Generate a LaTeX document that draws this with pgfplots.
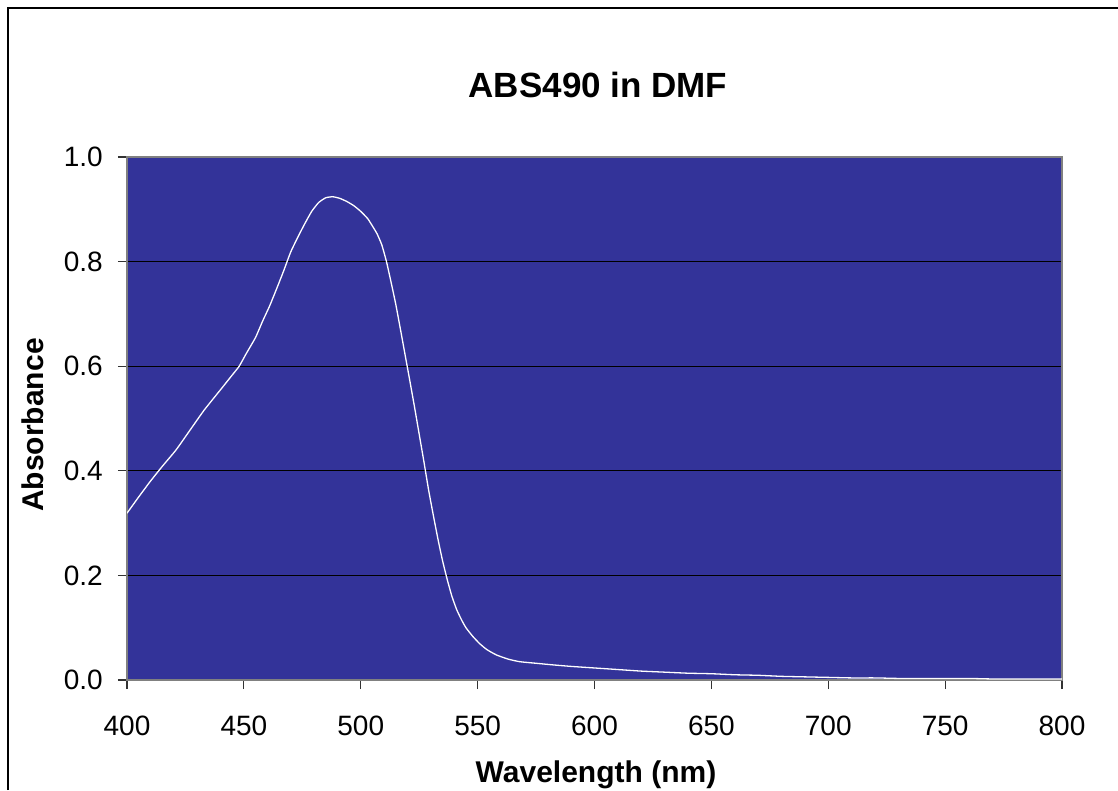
\documentclass[border=0pt]{standalone}
\usepackage{fontspec}
\setmainfont{Liberation Sans}
\usepackage{pgfplots}
\pgfplotsset{compat=1.18}
\definecolor{plotblue}{HTML}{333399}
\definecolor{axisgray}{HTML}{808080}

\begin{document}
\begin{tikzpicture}
	\useasboundingbox (0,0) rectangle (1118pt,790pt);
	% chart frame (left and top edges visible)
	\draw[black, line width=1.5pt] (8pt,0pt) -- (8pt,782pt) -- (1118pt,782pt);
	\begin{axis}[
		at={(127pt,110pt)}, anchor=south west,
		scale only axis,
		width=935pt, height=523pt,
		xmin=400, xmax=800,
		ymin=0, ymax=1,
		xtick={400,450,...,800},
		ytick={0,0.2,0.4,0.6,0.8,1.0},
		axis background/.style={fill=plotblue},
		axis line style={axisgray, line width=1.5pt},
		ymajorgrids,
		major grid style={black, line width=1.2pt},
		tick align=outside,
		major tick length=9pt,
		tick style={black!80, line width=1.2pt},
		xtick pos=bottom, ytick pos=left,
		/pgf/number format/assume math mode=true,
		yticklabel style={/pgf/number format/fixed, /pgf/number format/fixed zerofill, /pgf/number format/precision=1},
		ticklabel style={font=\fontsize{28}{30}\selectfont, inner sep=0pt},
		xticklabel style={anchor=north, yshift=-27pt},
		yticklabel style={anchor=east, xshift=-15pt},
		]
		\addplot[white, line width=1.3pt, smooth, tension=0.3] coordinates {
			(400,0.319) (405,0.350) (410,0.380) (415,0.408) (421,0.440)
			(427,0.478) (433,0.516) (440,0.555) (445,0.583) (448,0.600)
			(451,0.624) (455,0.655) (458,0.686) (461,0.715) (464,0.748)
			(467,0.782) (470,0.818) (473,0.846) (476,0.872) (479,0.896)
			(482,0.913) (485,0.922) (488,0.924) (491,0.921) (494,0.915)
			(497,0.907) (500,0.896) (503,0.882) (505,0.868) (507,0.853)
			(509,0.832) (511,0.800) (513,0.760) (515,0.718) (517,0.670)
			(519,0.621) (521,0.572) (523,0.522) (525,0.470) (527,0.418)
			(529,0.364) (531,0.316) (533,0.270) (535,0.228) (537,0.192)
			(539,0.160) (541,0.135) (543,0.116) (545,0.100) (548,0.083)
			(551,0.069) (554,0.058) (558,0.048) (563,0.040) (568,0.035)
			(575,0.032) (582,0.029) (590,0.026) (600,0.023) (610,0.020)
			(620,0.017) (630,0.015) (640,0.013) (650,0.012) (660,0.010)
			(670,0.009) (680,0.007) (690,0.006) (700,0.005) (710,0.004)
			(720,0.004) (730,0.003) (740,0.003) (750,0.003) (760,0.003)
			(770,0.002) (780,0.002) (790,0.002) (800,0.002)
		};
	\end{axis}
	\node[anchor=base, font=\fontsize{35}{38}\selectfont\bfseries] at (598pt,692pt) {ABS490 in DMF};
	\node[anchor=base, font=\fontsize{30}{33}\selectfont\bfseries] at (596pt,8pt) {Wavelength (nm)};
	\node[anchor=base, rotate=90, font=\fontsize{30}{33}\selectfont\bfseries] at (43pt,365pt) {Absorbance};
\end{tikzpicture}
\end{document}
